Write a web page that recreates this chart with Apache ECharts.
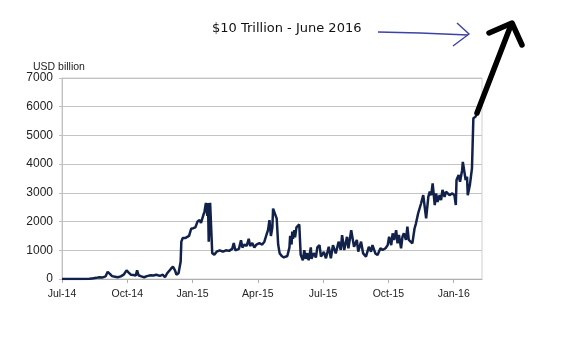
<!DOCTYPE html>
<html>
<head>
<meta charset="utf-8">
<style>
  html, body { margin: 0; padding: 0; background: #fff; }
  #chart { width: 570px; height: 351px; }
</style>
<script src="https://cdn.jsdelivr.net/npm/echarts@6/dist/echarts.min.js"></script>
</head>
<body>
<div id="chart"></div>
<script>
// x tick labels, one every quarter starting Jul-14
var tickLabels = ['Jul-14', 'Oct-14', 'Jan-15', 'Apr-15', 'Jul-15', 'Oct-15', 'Jan-16'];

// dates and values (USD billion)
var dates = [
  '2014-07-01', '2014-07-12', '2014-07-26', '2014-08-09', '2014-08-13', '2014-08-19', '2014-08-23', '2014-08-27',
  '2014-09-01', '2014-09-04', '2014-09-07', '2014-09-10', '2014-09-14', '2014-09-18', '2014-09-22', '2014-09-26',
  '2014-09-30', '2014-10-03', '2014-10-06', '2014-10-10', '2014-10-13', '2014-10-15', '2014-10-17', '2014-10-21',
  '2014-10-25', '2014-10-29', '2014-11-03', '2014-11-07', '2014-11-11', '2014-11-16', '2014-11-20', '2014-11-23',
  '2014-11-26', '2014-11-28', '2014-12-01', '2014-12-04', '2014-12-07', '2014-12-09', '2014-12-12', '2014-12-15',
  '2014-12-16', '2014-12-18', '2014-12-22', '2014-12-24', '2014-12-27', '2014-12-30', '2015-01-02', '2015-01-05',
  '2015-01-08', '2015-01-11', '2015-01-13', '2015-01-16', '2015-01-18', '2015-01-20', '2015-01-22', '2015-01-23',
  '2015-01-24', '2015-01-26', '2015-01-27', '2015-01-29', '2015-02-01', '2015-02-04', '2015-02-08', '2015-02-12',
  '2015-02-16', '2015-02-20', '2015-02-24', '2015-02-26', '2015-02-28', '2015-03-02', '2015-03-05', '2015-03-08',
  '2015-03-10', '2015-03-13', '2015-03-16', '2015-03-19', '2015-03-21', '2015-03-24', '2015-03-27', '2015-03-30',
  '2015-04-03', '2015-04-07', '2015-04-10', '2015-04-13', '2015-04-15', '2015-04-17', '2015-04-19', '2015-04-21',
  '2015-04-22', '2015-04-24', '2015-04-27', '2015-04-29', '2015-05-01', '2015-05-04', '2015-05-07', '2015-05-09',
  '2015-05-12', '2015-05-15', '2015-05-16', '2015-05-18', '2015-05-19', '2015-05-20', '2015-05-22', '2015-05-23',
  '2015-05-25', '2015-05-27', '2015-05-29', '2015-05-31', '2015-06-03', '2015-06-05', '2015-06-07', '2015-06-09',
  '2015-06-11', '2015-06-14', '2015-06-15', '2015-06-18', '2015-06-21', '2015-06-23', '2015-06-26', '2015-06-28',
  '2015-07-02', '2015-07-05', '2015-07-09', '2015-07-12', '2015-07-15', '2015-07-19', '2015-07-23', '2015-07-26',
  '2015-07-28', '2015-07-31', '2015-08-04', '2015-08-06', '2015-08-10', '2015-08-12', '2015-08-14', '2015-08-18',
  '2015-08-20', '2015-08-24', '2015-08-27', '2015-08-31', '2015-09-04', '2015-09-07', '2015-09-09', '2015-09-13',
  '2015-09-16', '2015-09-20', '2015-09-23', '2015-09-27', '2015-09-30', '2015-10-02', '2015-10-05', '2015-10-07',
  '2015-10-09', '2015-10-12', '2015-10-14', '2015-10-16', '2015-10-19', '2015-10-21', '2015-10-23', '2015-10-26',
  '2015-10-28', '2015-10-30', '2015-11-04', '2015-11-07', '2015-11-09', '2015-11-12', '2015-11-14', '2015-11-16',
  '2015-11-19', '2015-11-21', '2015-11-23', '2015-11-26', '2015-11-28', '2015-11-30', '2015-12-02', '2015-12-05',
  '2015-12-07', '2015-12-09', '2015-12-12', '2015-12-14', '2015-12-16', '2015-12-19', '2015-12-21', '2015-12-26',
  '2015-12-30', '2016-01-02', '2016-01-04', '2016-01-05', '2016-01-08', '2016-01-10', '2016-01-13', '2016-01-14',
  '2016-01-16', '2016-01-18', '2016-01-20', '2016-01-21', '2016-01-24', '2016-01-26', '2016-01-27', '2016-01-29',
  '2016-02-01', '2016-02-03', '2016-02-04', '2016-02-07', '2016-02-09'
];
var values = [
  0, 0, 0, 5, 20, 40, 60, 50,
  90, 250, 180, 100, 80, 60, 90, 150,
  300, 220, 150, 140, 120, 300, 130, 90,
  60, 100, 130, 120, 150, 110, 150, 60,
  200, 160, 350, 430, 300, 150, 200, 600,
  1300, 1430, 1430, 1450, 1500, 1750, 1770, 1800,
  2000, 2050, 1950, 2200, 2350, 2650, 2200, 2650,
  1300, 2650, 2600, 900, 850, 950, 1000, 950,
  1000, 980, 1050, 1250, 1000, 950, 1050, 1350,
  1100, 1200, 1150, 1400, 1150, 1250, 1100, 1200,
  1250, 1200, 1300, 1550, 1700, 2050, 1500, 1800,
  2450, 2450, 2100, 1200, 900, 800, 750, 700,
  800, 1100, 1500, 1200, 1650, 1400, 1700, 1450,
  1800, 1800, 1900, 850, 650, 1000, 700, 900,
  650, 1100, 700, 900, 750, 1100, 1180, 780,
  940, 720, 1120, 720, 1180, 890, 1300, 1010,
  1530, 1010, 1470, 1070, 1700, 1760, 1120, 1360,
  950, 1300, 890, 780, 1120, 950, 1180, 890,
  835, 1070, 1010, 1070, 1180, 1470, 1180, 1590,
  1360, 1700, 1240, 1530, 1070, 1470, 1590, 1360,
  1820, 1360, 1240, 1760, 1940, 2290, 2350, 2630,
  2920, 2980, 2110, 2860, 3040, 2920, 3330, 2575,
  2980, 2690, 2920, 2750, 3100, 2860, 3040, 2920,
  2980, 2920, 2575, 3450, 3620, 3390, 3790, 4080,
  4140, 3450, 3560, 2920, 3270, 3220, 3850, 5600,
  5650, 5750, 5780, 5950, 6050
];

// months since Jul-14 (fractional)
function toMonthIndex(s) {
  var p = s.split('-').map(Number);
  var dim = new Date(p[0], p[1], 0).getDate();
  return (p[0] - 2014) * 12 + (p[1] - 7) + (p[2] - 1) / dim;
}

var seriesData = dates.map(function (d, i) {
  return [toMonthIndex(d), values[i]];
});

var chart = echarts.init(document.getElementById('chart'));

var option = {
  animation: false,
  backgroundColor: '#fff',
  title: {
    text: 'USD billion',
    left: 28,
    top: 57,
    textStyle: { fontFamily: 'Liberation Sans', fontSize: 10.5, fontWeight: 'normal', color: '#222' }
  },
  grid: {
    left: 62,
    right: 88,
    top: 78,
    bottom: 72,
    show: true,
    borderColor: '#cfcfcf',
    borderWidth: 1
  },
  xAxis: {
    type: 'value',
    min: 0,
    max: 19.3,
    interval: 3,
    axisLine: { lineStyle: { color: '#b0b0b0' } },
    axisTick: {
      show: true,
      length: 4,
      customValues: [0, 3, 6, 9, 12, 15, 18],
      lineStyle: { color: '#b0b0b0' }
    },
    splitLine: { show: false },
    axisLabel: {
      margin: 10,
      fontFamily: 'Liberation Sans',
      fontSize: 10.5,
      color: '#222',
      customValues: [0, 3, 6, 9, 12, 15, 18],
      formatter: function (v) {
        return tickLabels[Math.round(v / 3)] || '';
      }
    }
  },
  yAxis: {
    type: 'value',
    min: 0,
    max: 7000,
    interval: 1000,
    axisLine: { show: true, lineStyle: { color: '#c0c0c0' } },
    axisTick: { show: true, length: 3, lineStyle: { color: '#c0c0c0' } },
    splitLine: { lineStyle: { color: '#c4c4c4', width: 1 } },
    axisLabel: {
      margin: 9,
      fontFamily: 'Liberation Sans',
      fontSize: 12,
      color: '#222',
      formatter: function (v) { return String(v); }
    }
  },
  series: [{
    type: 'line',
    data: seriesData,
    showSymbol: false,
    symbol: 'none',
    lineStyle: { color: '#11214a', width: 2.5 },
    z: 3
  }],
  graphic: [
    {
      type: 'text',
      left: 212,
      top: 22,
      style: { text: '$10 Trillion - June 2016', font: '13px "DejaVu Sans"', fill: '#111' }
    },
    // thin blue arrow
    {
      type: 'polyline',
      shape: { points: [[378, 32], [420, 33], [468, 35]] },
      style: { stroke: '#3d43a6', lineWidth: 1.4, fill: null }
    },
    {
      type: 'polyline',
      shape: { points: [[457, 23], [469, 34], [453, 46]] },
      style: { stroke: '#3d43a6', lineWidth: 1.4, fill: null }
    },
    // thick black hand-drawn arrow
    {
      type: 'polyline',
      shape: { points: [[477, 113], [511, 25]] },
      style: { stroke: '#000', lineWidth: 5.5, lineCap: 'round', fill: null },
      z: 10
    },
    {
      type: 'polyline',
      shape: { points: [[489, 33], [512, 23], [522, 45]] },
      style: { stroke: '#000', lineWidth: 5.5, lineCap: 'round', lineJoin: 'round', fill: null },
      z: 10
    }
  ]
};

chart.setOption(option);
</script>
</body>
</html>
